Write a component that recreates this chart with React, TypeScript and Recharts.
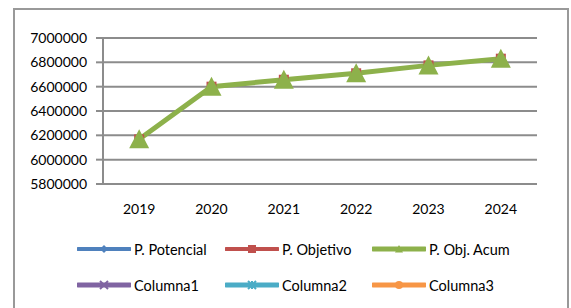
import { LineChart, Line, XAxis, YAxis, CartesianGrid } from 'recharts'

const years = ['2019', '2020', '2021', '2022', '2023', '2024']
const potencial = [6167000, 6600000, 6657000, 6710000, 6775000, 6830000]
const objetivo = [6167000, 6600000, 6657000, 6710000, 6775000, 6830000]
const objAcum = [6167000, 6600000, 6657000, 6710000, 6775000, 6830000]
const yTicks = [5800000, 6000000, 6200000, 6400000, 6600000, 6800000, 7000000]
const bandTicks = [0, 1, 2, 3, 4, 5, 6]

const data = years.map((year, i) => ({
  year,
  potencial: potencial[i],
  objetivo: objetivo[i],
  acum: objAcum[i],
}))

const FONT = 'Lato, "Open Sans", sans-serif'
const GRID = '#8c8c8c'

const legendItems = [
  { name: 'P. Potencial', color: '#4F81BD', marker: 'diamond', width: 4 },
  { name: 'P. Objetivo', color: '#C0504D', marker: 'square', width: 4 },
  { name: 'P. Obj. Acum', color: '#8DB14B', marker: 'triangle', width: 5 },
  { name: 'Columna1', color: '#8064A2', marker: 'x', width: 5 },
  { name: 'Columna2', color: '#4BACC6', marker: 'star', width: 5 },
  { name: 'Columna3', color: '#F79646', marker: 'circle', width: 5 },
]

function Marker({ type, color, cx, cy, s }: { type: string; color: string; cx: number; cy: number; s: number }) {
  if (type === 'diamond')
    return <polygon points={`${cx},${cy - s} ${cx + s},${cy} ${cx},${cy + s} ${cx - s},${cy}`} fill={color} />
  if (type === 'square') return <rect x={cx - s} y={cy - s} width={s * 2} height={s * 2} fill={color} />
  if (type === 'triangle')
    return <polygon points={`${cx},${cy - s} ${cx + s},${cy + s * 0.9} ${cx - s},${cy + s * 0.9}`} fill={color} />
  if (type === 'circle') return <circle cx={cx} cy={cy} r={s} fill={color} />
  if (type === 'x')
    return (
      <g stroke={color} strokeWidth={2}>
        <line x1={cx - s} y1={cy - s} x2={cx + s} y2={cy + s} />
        <line x1={cx - s} y1={cy + s} x2={cx + s} y2={cy - s} />
      </g>
    )
  return (
    <g stroke={color} strokeWidth={2}>
      <line x1={cx - s} y1={cy - s} x2={cx + s} y2={cy + s} />
      <line x1={cx - s} y1={cy + s} x2={cx + s} y2={cy - s} />
      <line x1={cx} y1={cy - s} x2={cx} y2={cy + s} />
    </g>
  )
}

const triangleDot = (props: any) => {
  const { cx, cy, key } = props
  return <polygon key={key} points={`${cx},${cy - 10} ${cx + 10},${cy + 9} ${cx - 10},${cy + 9}`} fill="#8DB14B" />
}
const squareDot = (props: any) => {
  const { cx, cy, key } = props
  return <rect key={key} x={cx - 5} y={cy - 5} width={10} height={10} fill="#C0504D" />
}
const diamondDot = (props: any) => {
  const { cx, cy, key } = props
  return <polygon key={key} points={`${cx},${cy - 5} ${cx + 5},${cy} ${cx},${cy + 5} ${cx - 5},${cy}`} fill="#4F81BD" />
}

const colX = [77, 225, 372]
const rowY = [249, 285]

export default function App() {
  return (
    <div style={{ position: 'absolute', left: 0, top: 0, width: 571, height: 308, background: '#fff', overflow: 'hidden', fontFamily: FONT }}>
      <div style={{ position: 'absolute', left: 13, top: 8, width: 552, height: 320, border: '2px solid #999' }} />
      <LineChart width={571} height={308} data={data} margin={{ top: 38, right: 34, left: 13, bottom: 84 }} style={{ position: 'absolute', left: 0, top: 0 }}>
        <CartesianGrid vertical={false} stroke={GRID} strokeWidth={2} xAxisId="band" />
        <XAxis xAxisId="band" type="number" domain={[0, 6]} ticks={bandTicks} tick={false} tickSize={6} height={0} axisLine={{ stroke: GRID, strokeWidth: 2 }} tickLine={{ stroke: GRID, strokeWidth: 2 }} />
        <XAxis xAxisId="cat" dataKey="year" scale="band" height={40} axisLine={false} tickLine={false} tickSize={6} tickMargin={14} tick={{ fill: '#000', fontSize: 14, fontFamily: FONT }} />
        <YAxis domain={[5800000, 7000000]} ticks={yTicks} width={90} tickSize={7} tickMargin={9} interval={0} axisLine={{ stroke: GRID, strokeWidth: 2 }} tickLine={{ stroke: GRID, strokeWidth: 2 }} tick={{ fill: '#000', fontSize: 14, fontFamily: FONT }} />
        <Line xAxisId="cat" dataKey="potencial" stroke="#4F81BD" strokeWidth={3} dot={diamondDot} isAnimationActive={false} />
        <Line xAxisId="cat" dataKey="objetivo" stroke="#C0504D" strokeWidth={3} dot={squareDot} isAnimationActive={false} />
        <Line xAxisId="cat" dataKey="acum" stroke="#8DB14B" strokeWidth={5} dot={triangleDot} isAnimationActive={false} />
      </LineChart>
      {legendItems.map((item, i) => {
        const x = colX[i % 3]
        const y = rowY[Math.floor(i / 3)]
        return (
          <div key={item.name} style={{ position: 'absolute', left: x, top: y - 10, height: 20, display: 'flex', alignItems: 'center' }}>
            <svg width={54} height={20}>
              <line x1={1} y1={10} x2={53} y2={10} stroke={item.color} strokeWidth={item.width} strokeLinecap="round" />
              <Marker type={item.marker} color={item.color} cx={27} cy={10} s={4} />
            </svg>
            <span style={{ marginLeft: 3, fontSize: 14.5, color: '#000', whiteSpace: 'nowrap' }}>{item.name}</span>
          </div>
        )
      })}
    </div>
  )
}
